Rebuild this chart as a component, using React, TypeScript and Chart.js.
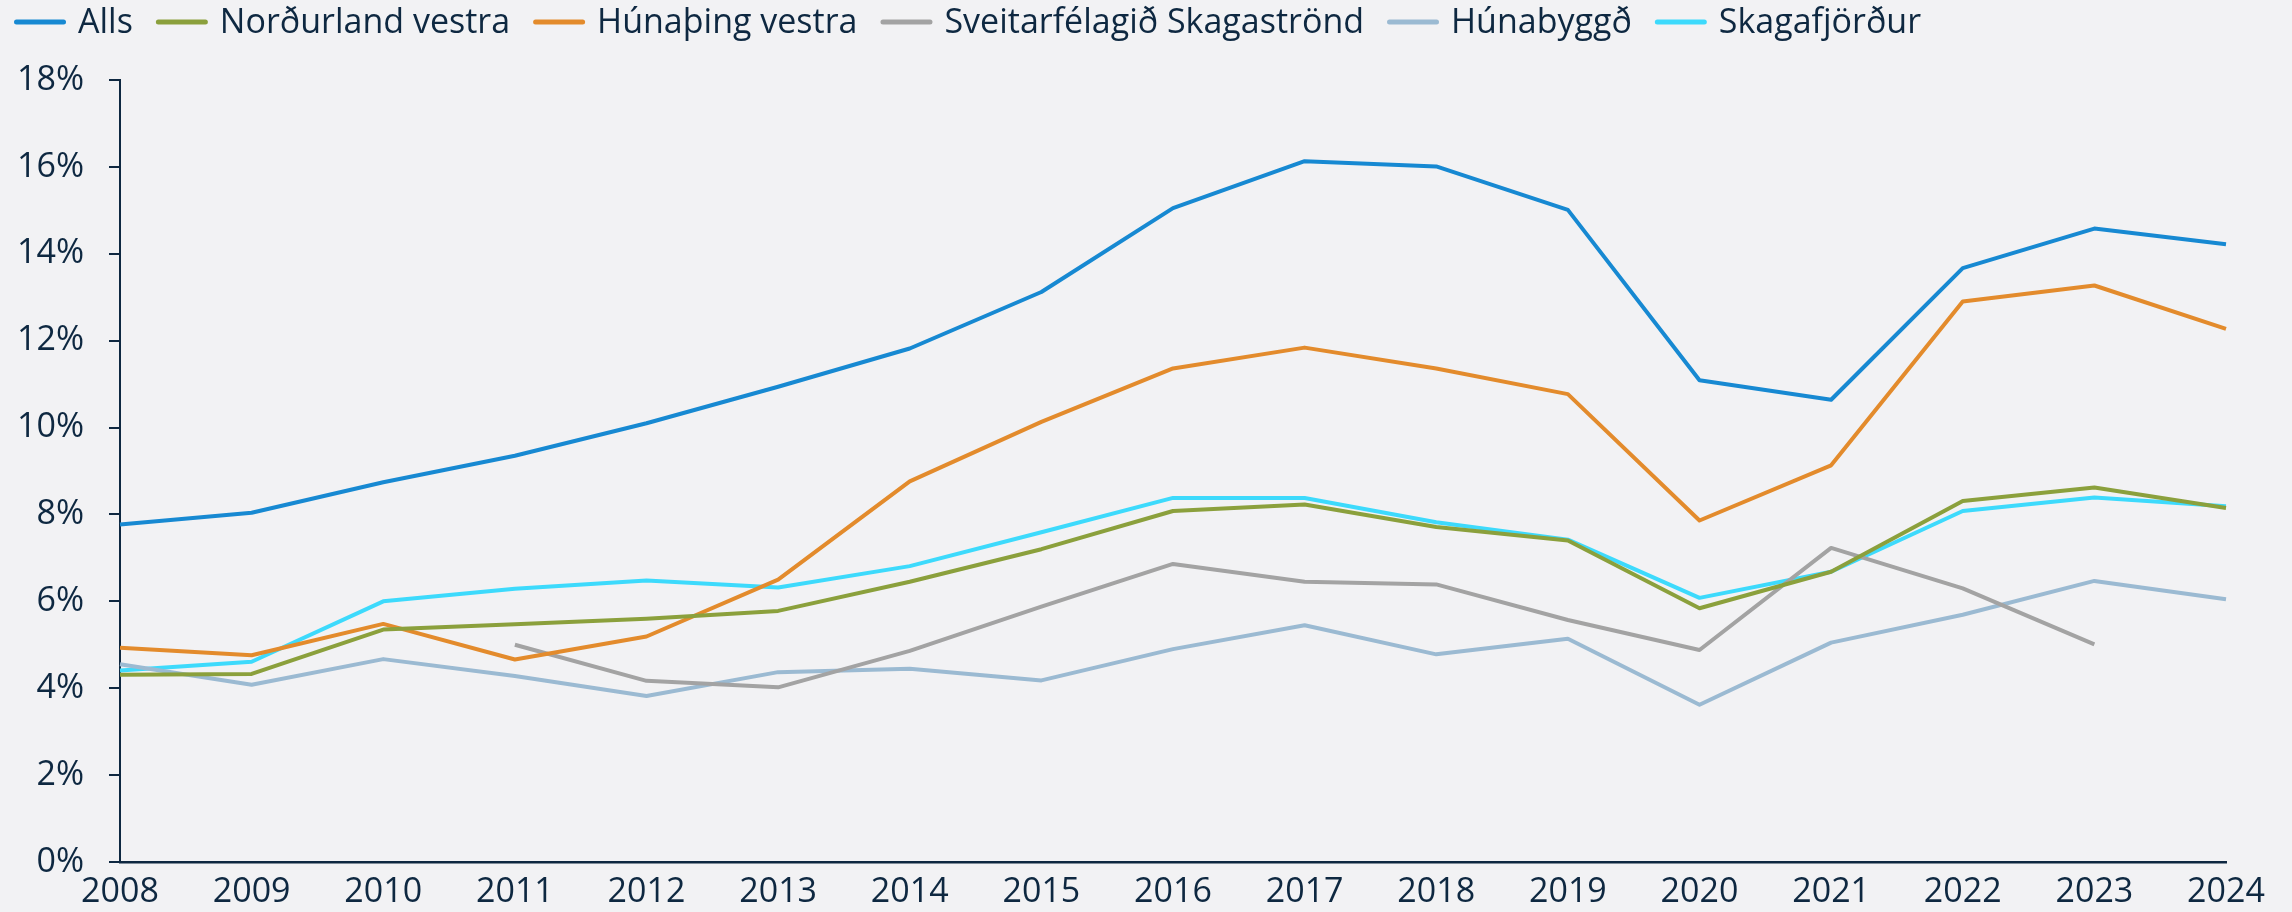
import React, { useEffect, useRef } from "react";
import { Chart, registerables } from "chart.js";

Chart.register(...registerables);

const years = ["2008", "2009", "2010", "2011", "2012", "2013", "2014", "2015", "2016", "2017", "2018", "2019", "2020", "2021", "2022", "2023", "2024"];

const alls = [7.77, 8.04, 8.74, 9.35, 10.1, 10.94, 11.82, 13.12, 15.05, 16.13, 16.01, 15.01, 11.09, 10.64, 13.67, 14.58, 14.22];
const nordurlandVestra = [4.31, 4.33, 5.35, 5.47, 5.6, 5.78, 6.45, 7.2, 8.08, 8.23, 7.71, 7.4, 5.84, 6.68, 8.31, 8.62, 8.15];
const hunathingVestra = [4.93, 4.76, 5.48, 4.66, 5.19, 6.5, 8.76, 10.13, 11.36, 11.84, 11.36, 10.77, 7.86, 9.13, 12.9, 13.27, 12.27];
const skagastrond = [null, null, null, 5.0, 4.17, 4.02, 4.86, 5.88, 6.86, 6.45, 6.39, 5.57, 4.88, 7.23, 6.3, 5.01, null];
const hunabyggd = [4.55, 4.08, 4.67, 4.28, 3.82, 4.37, 4.45, 4.18, 4.9, 5.45, 4.78, 5.14, 3.62, 5.05, 5.69, 6.47, 6.05];
const skagafjordur = [4.41, 4.61, 6.0, 6.29, 6.48, 6.32, 6.81, 7.59, 8.38, 8.38, 7.82, 7.42, 6.08, 6.68, 8.08, 8.39, 8.19];

const seriesNames = ["Alls", "Norðurland vestra", "Húnaþing vestra", "Sveitarfélagið Skagaströnd", "Húnabyggð", "Skagafjörður"];
const seriesValues = [alls, nordurlandVestra, hunathingVestra, skagastrond, hunabyggd, skagafjordur];
const seriesColors = ["#1789D2", "#8BA03C", "#E38B2C", "#A3A3A3", "#9BBAD2", "#3DDAFC"];

const yTicks = [0, 2, 4, 6, 8, 10, 12, 14, 16, 18];

const FONT = "'Open Sans', sans-serif";
const TEXT = "#0E2841";
const BG = "#F2F2F4";

const legendPlugin = {
  id: "topLegend",
  afterDraw(chart: any) {
    const ctx = chart.ctx;
    ctx.save();
    ctx.font = `34px ${FONT}`;
    ctx.textBaseline = "middle";
    ctx.textAlign = "left";
    let x = 14;
    const y = 22;
    chart.data.datasets.forEach((ds: any) => {
      ctx.strokeStyle = ds.borderColor;
      ctx.lineWidth = 5;
      ctx.lineCap = "round";
      ctx.beginPath();
      ctx.moveTo(x + 2.5, y);
      ctx.lineTo(x + 49.5, y);
      ctx.stroke();
      x += 52 + 12;
      ctx.fillStyle = TEXT;
      ctx.fillText(ds.label, x, y + 1);
      x += ctx.measureText(ds.label).width + 23;
    });
    ctx.restore();
  },
};

export default function App() {
  const ref = useRef<HTMLCanvasElement | null>(null);

  useEffect(() => {
    document.body.style.margin = "0";
    document.body.style.background = BG;
    const canvas = ref.current;
    if (!canvas) return;
    const chart = new Chart(canvas, {
      type: "line",
      data: {
        labels: years,
        datasets: seriesNames.map((name, i) => ({
          label: name,
          data: seriesValues[i],
          borderColor: seriesColors[i],
          backgroundColor: seriesColors[i],
          borderWidth: 4,
          pointRadius: 0,
          pointHoverRadius: 0,
          tension: 0,
          spanGaps: false,
          borderJoinStyle: "round" as const,
        })),
      },
      options: {
        animation: false,
        responsive: false,
        maintainAspectRatio: false,
        layout: { padding: { top: 80, right: 66, bottom: 1, left: 0 } },
        plugins: {
          legend: { display: false },
          tooltip: { enabled: false },
        },
        scales: {
          x: {
            type: "category",
            offset: false,
            afterFit: (scale: any) => {
              scale.height = 49;
            },
            grid: { display: false },
            border: { display: true, color: TEXT, width: 2.5 },
            ticks: {
              color: TEXT,
              font: { family: FONT, size: 34, lineHeight: 1 },
              padding: 5,
              maxRotation: 0,
              autoSkip: false,
            },
          },
          y: {
            type: "linear",
            min: 0,
            max: 18,
            afterFit: (scale: any) => {
              scale.width = 120;
            },
            afterBuildTicks: (scale: any) => {
              scale.ticks = yTicks.map((v) => ({ value: v }));
            },
            grid: {
              display: true,
              drawOnChartArea: false,
              drawTicks: true,
              tickLength: 11,
              color: TEXT,
              lineWidth: 2,
            },
            border: { display: true, color: TEXT, width: 2 },
            ticks: {
              color: TEXT,
              font: { family: FONT, size: 34, lineHeight: 1 },
              padding: 25,
              callback: (v: any) => `${v}%`,
            },
          },
        },
      },
      plugins: [legendPlugin],
    });
    return () => chart.destroy();
  }, []);

  return (
    <div style={{ width: 2292, height: 912, background: BG, position: "relative" }}>
      <canvas ref={ref} width={2292} height={912} style={{ display: "block", width: 2292, height: 912 }} />
    </div>
  );
}
